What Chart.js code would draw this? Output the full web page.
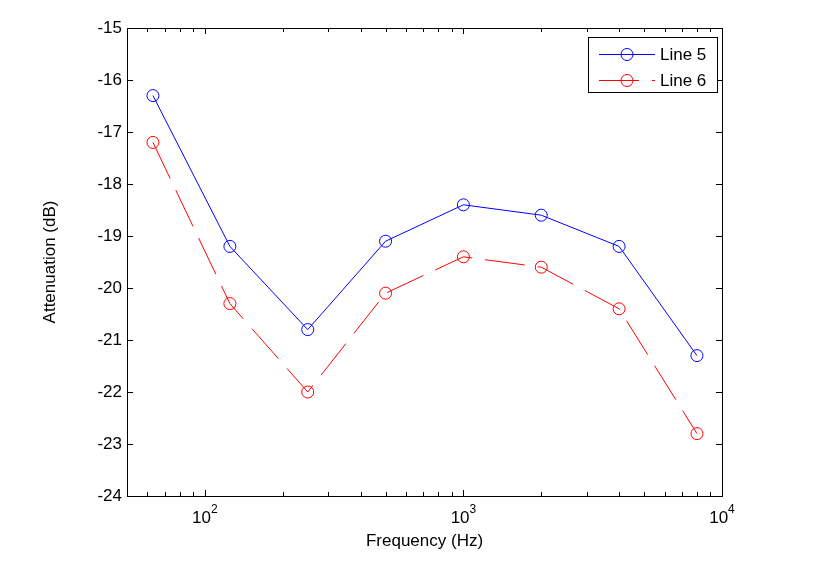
<!DOCTYPE html>
<html>
<head>
<meta charset="utf-8">
<script src="https://cdn.jsdelivr.net/npm/chart.js@4.4.1/dist/chart.umd.min.js"></script>
<style>
  html, body { margin: 0; padding: 0; background: #fff; }
</style>
</head>
<body>
<canvas id="chart" width="837" height="567"></canvas>
<script>
// Données
const frequencies = [63, 125, 250, 500, 1000, 2000, 4000, 8000];
const line5 = [-16.3, -19.2, -20.8, -19.1, -18.4, -18.6, -19.2, -21.3];
const line6 = [-17.2, -20.3, -22.0, -20.1, -19.4, -19.6, -20.4, -22.8];
const seriesLabels = ['Line 5', 'Line 6'];
const yTicks = [-24, -23, -22, -21, -20, -19, -18, -17, -16, -15];
const xMajorTicks = [100, 1000, 10000];
const xMinorTicks = [60, 70, 80, 90, 200, 300, 400, 500, 600, 700, 800, 900,
                     2000, 3000, 4000, 5000, 6000, 7000, 8000, 9000];
const xExponents = ['2', '3', '4'];

const FONT = '"Liberation Sans", Arial, sans-serif';
const COLORS = ['#0000ff', '#ff0000'];
const DASHES = [[], [40, 13]];

function toPoints(values) {
    return frequencies.map((f, i) => ({ x: f, y: values[i] }));
}

// Cadre, graduations intérieures, labels 10^n et légende façon MATLAB
const matlabAxes = {
    id: 'matlabAxes',
    afterDraw(chart) {
        const ctx = chart.ctx;
        const area = chart.chartArea;
        const xs = chart.scales.x;
        const ys = chart.scales.y;
        ctx.save();
        ctx.strokeStyle = '#000';
        ctx.lineWidth = 1;
        ctx.strokeRect(Math.round(area.left) + 0.5, Math.round(area.top) + 0.5,
                       Math.round(area.right - area.left), Math.round(area.bottom - area.top));

        ctx.beginPath();
        yTicks.forEach(v => {
            const y = Math.round(ys.getPixelForValue(v)) + 0.5;
            ctx.moveTo(area.left, y); ctx.lineTo(area.left + 6, y);
            ctx.moveTo(area.right, y); ctx.lineTo(area.right - 6, y);
        });
        const tick = (v, len) => {
            const x = Math.round(xs.getPixelForValue(v)) + 0.5;
            ctx.moveTo(x, area.bottom); ctx.lineTo(x, area.bottom - len);
            ctx.moveTo(x, area.top); ctx.lineTo(x, area.top + len);
        };
        xMajorTicks.forEach(v => tick(v, 6));
        xMinorTicks.forEach(v => tick(v, 4));
        ctx.stroke();

        // labels 10^n
        ctx.fillStyle = '#000';
        ctx.textBaseline = 'alphabetic';
        ctx.textAlign = 'left';
        xMajorTicks.forEach((v, i) => {
            const x = xs.getPixelForValue(v);
            ctx.font = '17px ' + FONT;
            const wBase = ctx.measureText('10').width;
            ctx.font = '12px ' + FONT;
            const wExp = ctx.measureText(xExponents[i]).width;
            const start = x - (wBase + wExp) / 2;
            ctx.font = '17px ' + FONT;
            ctx.fillText('10', start, area.bottom + 27);
            ctx.font = '12px ' + FONT;
            ctx.fillText(xExponents[i], start + wBase, area.bottom + 17);
        });

        // légende
        const boxRight = area.right - 5;
        const boxLeft = boxRight - 129;
        const boxTop = area.top + 9;
        ctx.fillStyle = '#fff';
        ctx.fillRect(boxLeft, boxTop, 129, 55);
        ctx.strokeStyle = '#000';
        ctx.strokeRect(boxLeft + 0.5, boxTop + 0.5, 129, 55);
        chart.data.datasets.forEach((ds, i) => {
            const y = boxTop + 17 + i * 26;
            ctx.strokeStyle = ds.borderColor;
            ctx.setLineDash(ds.borderDash || []);
            ctx.beginPath();
            ctx.moveTo(boxLeft + 11, y + 0.5);
            ctx.lineTo(boxLeft + 67, y + 0.5);
            ctx.stroke();
            ctx.setLineDash([]);
            ctx.beginPath();
            ctx.arc(boxLeft + 39, y + 0.5, 6, 0, Math.PI * 2);
            ctx.stroke();
            ctx.fillStyle = '#000';
            ctx.font = '17px ' + FONT;
            ctx.textBaseline = 'middle';
            ctx.fillText(ds.label, boxLeft + 72, y + 1);
        });
        ctx.restore();
    }
};

new Chart(document.getElementById('chart'), {
    type: 'line',
    data: {
        datasets: [line5, line6].map((values, i) => ({
            label: seriesLabels[i],
            data: toPoints(values),
            borderColor: COLORS[i],
            borderWidth: 1,
            borderDash: DASHES[i],
            tension: 0,
            pointStyle: 'circle',
            pointRadius: 6,
            pointBorderWidth: 1,
            pointBorderColor: COLORS[i],
            pointBackgroundColor: 'rgba(0,0,0,0)'
        }))
    },
    options: {
        responsive: false,
        animation: false,
        events: [],
        layout: { padding: { top: 28, right: 115, left: 0, bottom: 0 } },
        plugins: { legend: { display: false }, tooltip: { enabled: false } },
        scales: {
            x: {
                type: 'logarithmic',
                min: 50,
                max: 10000,
                grid: { display: false },
                border: { display: false },
                ticks: { display: false },
                title: {
                    display: true,
                    text: 'Frequency (Hz)',
                    color: '#000',
                    font: { family: FONT, size: 17 },
                    padding: { top: 0, bottom: 15 }
                },
                afterFit: s => { s.height = 71; }
            },
            y: {
                min: -24,
                max: -15,
                afterBuildTicks: s => { s.ticks = yTicks.map(v => ({ value: v })); },
                grid: { display: false, drawTicks: false },
                border: { display: false },
                ticks: {
                    color: '#000',
                    padding: 5,
                    font: { family: FONT, size: 17 },
                    callback: v => String(v)
                },
                title: {
                    display: true,
                    text: 'Attenuation (dB)',
                    color: '#000',
                    font: { family: FONT, size: 17 },
                    padding: { top: 40, bottom: 0 }
                },
                afterFit: s => { s.width = 127; }
            }
        }
    },
    plugins: [matlabAxes]
});
</script>
</body>
</html>
